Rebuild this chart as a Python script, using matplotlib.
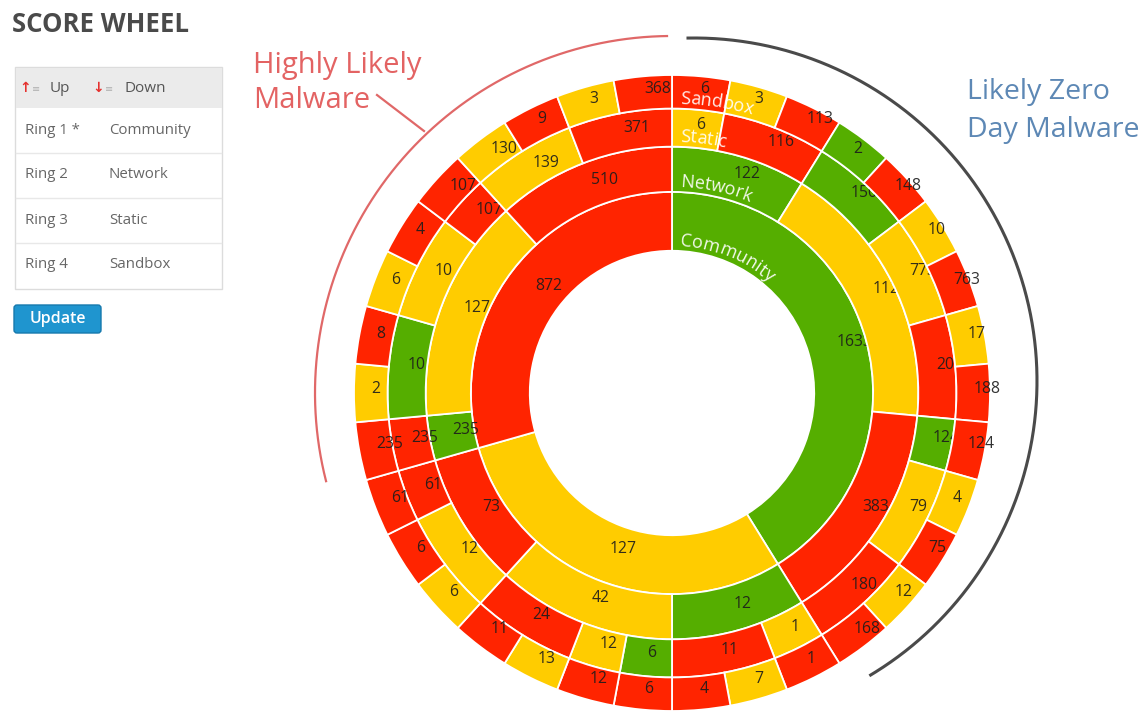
import numpy as np
import matplotlib.pyplot as plt
from matplotlib.patches import Rectangle, FancyBboxPatch
from matplotlib.textpath import TextToPath
from matplotlib.font_manager import FontProperties

plt.rcParams['font.family'] = ['Open Sans', 'DejaVu Sans']

# ---- data (clockwise from 12 o'clock, each ring ordered green/yellow/red inside its parent)
ring_names = ['Community', 'Network', 'Static', 'Sandbox']
table_rings = ['Ring 1 *', 'Ring 2', 'Ring 3', 'Ring 4']

community_vals = [1633, 127, 872]
community_cols = ['g', 'y', 'r']

network_vals = [122, 1128, 383, 12, 42, 73, 235, 127, 510]
network_cols = ['g', 'y', 'r', 'g', 'y', 'r', 'g', 'y', 'r']
network_parent = [0, 0, 0, 1, 1, 1, 2, 2, 2]

static_vals = [6, 116, 150, 773, 205, 124, 79, 180, 1, 11, 6, 12, 24, 12, 61,
               235, 10, 10, 107, 139, 371]
static_cols = ['y', 'r', 'g', 'y', 'r', 'g', 'y', 'r', 'y', 'r', 'g', 'y', 'r', 'y', 'r',
               'r', 'g', 'y', 'r', 'y', 'r']
static_parent = [0, 0, 1, 1, 1, 2, 2, 2, 3, 3, 4, 4, 4, 5, 5, 6, 7, 7, 7, 8, 8]

sandbox_vals = [6, 3, 113, 2, 148, 10, 763, 17, 188, 124, 4, 75, 12, 168, 1, 7, 4,
                6, 12, 13, 11, 6, 6, 61, 235, 2, 8, 6, 4, 107, 130, 9, 3, 368]
sandbox_cols = ['r', 'y', 'r', 'g', 'r', 'y', 'r', 'y', 'r', 'r', 'y', 'r', 'y', 'r', 'r', 'y', 'r',
                'r', 'r', 'y', 'r', 'y', 'r', 'r', 'r', 'y', 'r', 'y', 'r', 'r', 'y', 'r', 'y', 'r']
sandbox_parent = [0, 1, 1, 2, 2, 3, 3, 4, 4, 5, 6, 6, 7, 7, 8, 9, 9,
                  10, 11, 12, 12, 13, 13, 14, 15, 16, 16, 17, 17, 18, 19, 19, 20, 20]

COLORS = {'g': '#55ae00', 'y': '#ffcc00', 'r': '#ff2400'}

W, H = 1143, 711
CX, CY = 672, 393        # wheel centre in pixels (from top-left)
R_OUT = 318
R_AX = 380

fig = plt.figure(figsize=(W / 100, H / 100), dpi=100)

# overlay axes in pixel coordinates (y down)
ov = fig.add_axes([0, 0, 1, 1])
ov.set_xlim(0, W)
ov.set_ylim(H, 0)
ov.axis('off')

ax = fig.add_axes([(CX - R_AX) / W, (H - CY - R_AX) / H, 2 * R_AX / W, 2 * R_AX / H],
                  projection='polar')
ax.set_theta_zero_location('N')
ax.set_theta_direction(-1)
ax.set_ylim(0, R_AX)
ax.axis('off')
ax.patch.set_alpha(0)

rings = [
    (community_vals, community_cols, None),
    (network_vals, network_cols, network_parent),
    (static_vals, static_cols, static_parent),
    (sandbox_vals, sandbox_cols, sandbox_parent),
]

# every outer segment counts as one leaf; parents span their leaves
n_leaf = [None] * 4
n_leaf[3] = np.ones(len(sandbox_vals))
for k in (3, 2, 1):
    cnt = np.zeros(len(rings[k - 1][0]))
    for i, p in enumerate(rings[k][2]):
        cnt[p] += n_leaf[k][i]
    n_leaf[k - 1] = cnt

total = n_leaf[3].sum()
radii = R_OUT * np.sqrt(np.arange(1, 6) / 5)

# segments drawn ring by ring, each followed by its label, so later
# segments cover label overflow (like the svg original)
for k, (vals, cols, _) in enumerate(rings):
    widths = n_leaf[k] * 2 * np.pi / total
    starts = np.concatenate([[0], np.cumsum(widths)[:-1]])
    centers = starts + widths / 2
    bars = ax.bar(centers, radii[k + 1] - radii[k], width=widths, bottom=radii[k],
                  color=[COLORS[c] for c in cols], edgecolor='white', linewidth=1.3)
    r_mid = (radii[k] + radii[k + 1]) / 2
    for i, v in enumerate(vals):
        bars[i].set_zorder(k * 100 + 2 * i)
        ax.text(centers[i], r_mid, str(v), ha='left', va='baseline', fontsize=11.3,
                color='#1c1c1c', alpha=0.9, zorder=k * 100 + 2 * i + 1)

# curved ring names
t2p = TextToPath()
name_fp = FontProperties(family=['Open Sans', 'DejaVu Sans'], size=18 * 72 / 100)


def arc_text(s, r, start_px):
    prev = 0.0
    for i, ch in enumerate(s):
        w1 = t2p.get_text_width_height_descent(s[:i + 1], name_fp, ismath=False)[0] * 100 / 72
        a = (start_px + (prev + w1) / 2) / r
        prev = w1
        ax.text(a, r, ch, rotation=-np.degrees(a), rotation_mode='anchor', zorder=1000,
                ha='center', va='baseline', fontproperties=name_fp, color='white', alpha=0.92)


for k, name in enumerate(ring_names):
    arc_text(name, radii[k] + 5, 8)

# outer arcs
th = np.radians(np.linspace(255.7, 359.2, 300))
ov.plot(CX + 357 * np.sin(th), CY - 357 * np.cos(th), color='#e06868', lw=1.6)
ov.plot([377, 424], [95, 131], color='#e06868', lw=1.6)
th = np.radians(np.linspace(-1, 149, 300))
ov.plot(694 + 343 * np.sin(th), 381 - 343 * np.cos(th), color='#4a4a4a', lw=2.2)

ov.text(253, 65, 'Highly Likely', color='#e36363', fontsize=21, va='center')
ov.text(253, 101, 'Malware', color='#e36363', fontsize=21, va='center')
ov.text(967, 92, 'Likely Zero', color='#5d88b5', fontsize=20.5, va='center')
ov.text(967, 130, 'Day Malware', color='#5d88b5', fontsize=20.5, va='center')

# left panel
ov.text(12, 25, 'SCORE WHEEL', fontsize=18.5, fontweight='bold', color='#4a4a4a', va='center')
ov.add_patch(Rectangle((15, 67), 207, 222, facecolor='white', edgecolor='#dcdcdc', lw=1))
ov.add_patch(Rectangle((15.5, 67.5), 206, 40.5, facecolor='#ebebeb', edgecolor='none'))
for y in (153, 198, 243):
    ov.plot([16, 221], [y, y], color='#e8e8e8', lw=1)

ov.text(31, 88, '↑', color='#e5312e', fontsize=10, fontweight='bold', family='DejaVu Sans',
        ha='right', va='center')
ov.text(32, 89, '≡', color='#b0b0b0', fontsize=7, family='DejaVu Sans', va='center')
ov.text(50, 88, 'Up', color='#555555', fontsize=11, va='center')
ov.text(104, 88, '↓', color='#e5312e', fontsize=10, fontweight='bold', family='DejaVu Sans',
        ha='right', va='center')
ov.text(105, 89, '≡', color='#b0b0b0', fontsize=7, family='DejaVu Sans', va='center')
ov.text(124, 88, 'Down', color='#555555', fontsize=11, va='center')

for i, (rn, src) in enumerate(zip(table_rings, ring_names)):
    y = 130 + 45 * i
    ov.text(25, y, rn, color='#666666', fontsize=10.8, va='center')
    ov.text(109, y, src, color='#666666', fontsize=10.8, va='center')

ov.add_patch(FancyBboxPatch((14, 305), 87, 28, boxstyle='round,pad=0,rounding_size=3',
                            facecolor='#1f95cf', edgecolor='#1679ad', lw=1))
ov.text(57.5, 319, 'Update', color='white', fontsize=11.5, fontweight='semibold',
        ha='center', va='center')

fig.savefig('out.png', dpi=100)
